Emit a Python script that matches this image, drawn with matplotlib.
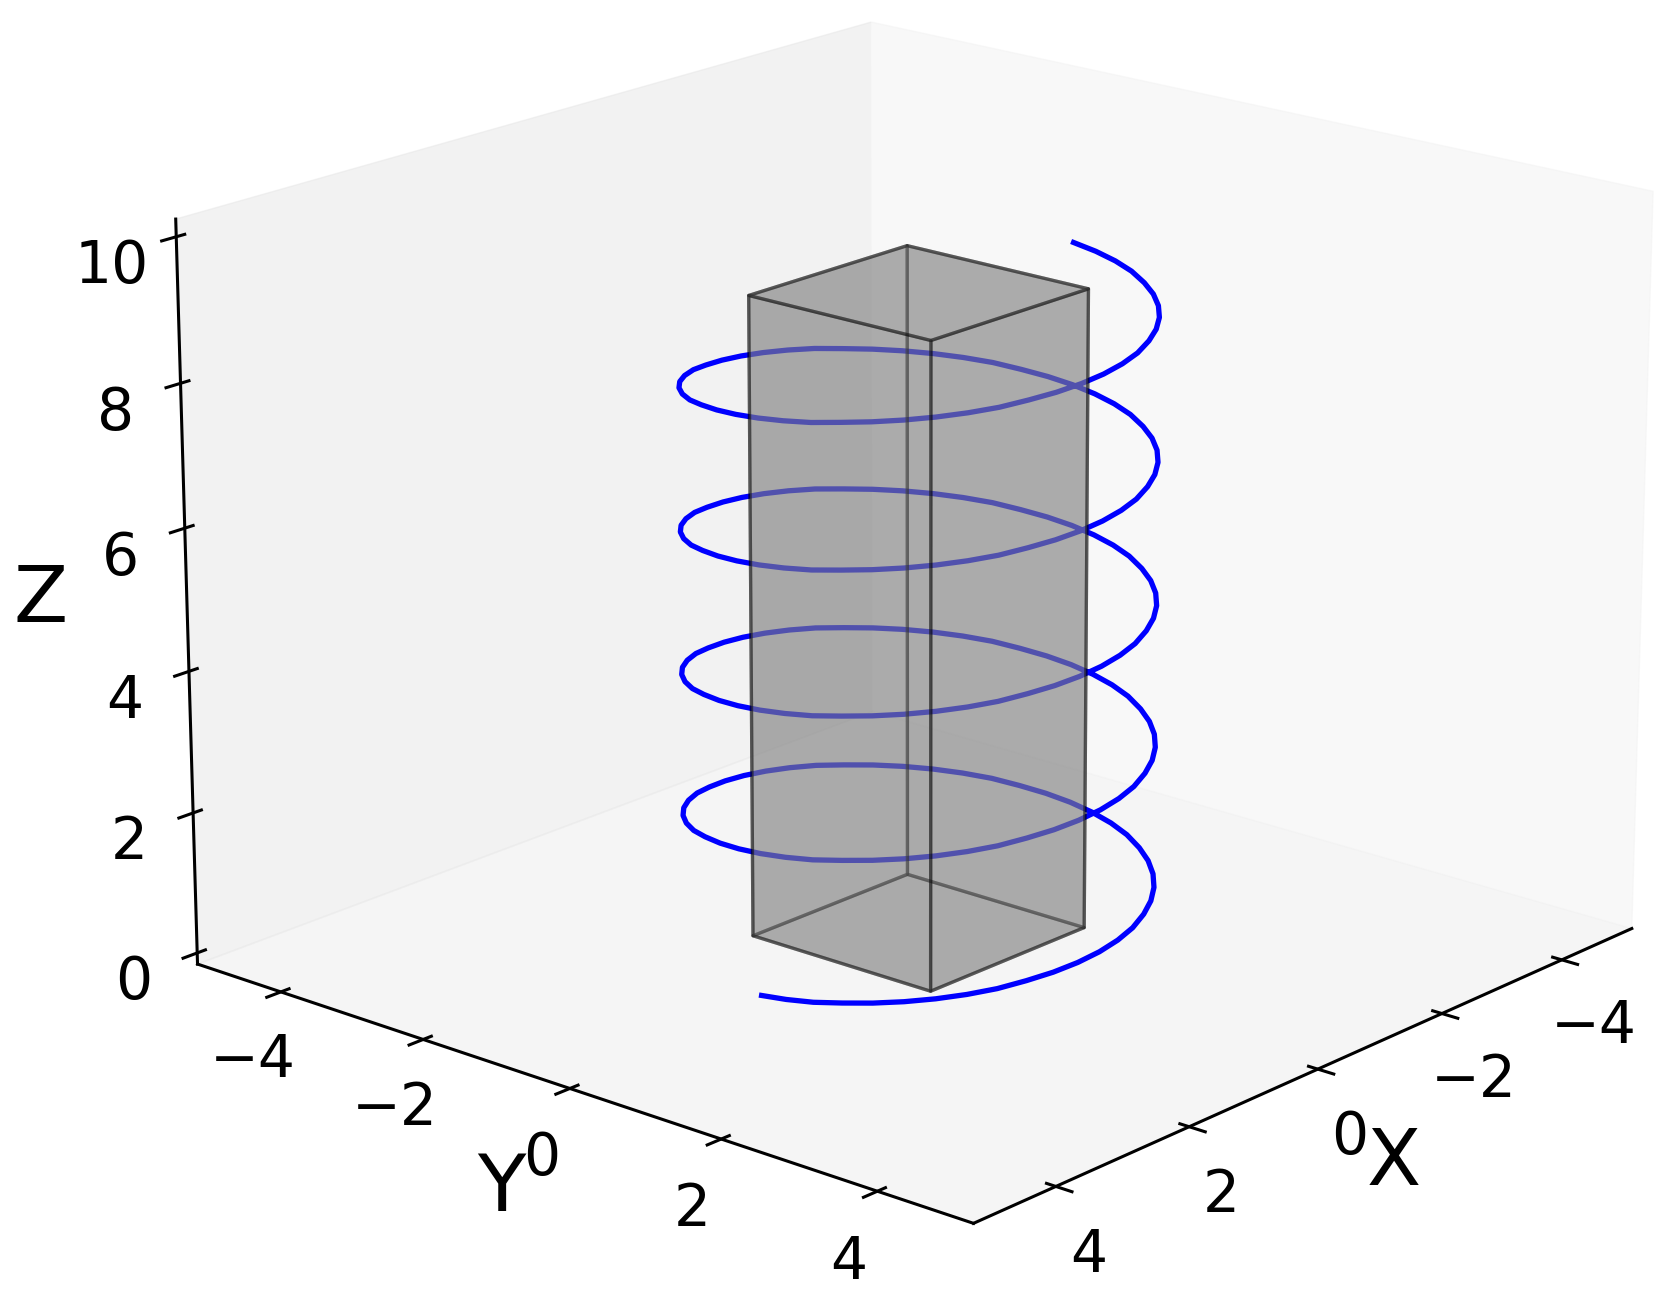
import numpy as np
import matplotlib
matplotlib.use('Agg')
import matplotlib.pyplot as plt
from mpl_toolkits.mplot3d.art3d import Poly3DCollection

# helix, one row per half turn
helix_x = [
    2.4, 2.379, 2.318, 2.217, 2.078, 1.904, 1.697, 1.461, 1.2, 0.918, 0.621, 0.313, 0.0, -0.313, -0.621, -0.918, -1.2, -1.461, -1.697, -1.904, -2.078, -2.217, -2.318, -2.379,
    -2.4, -2.379, -2.318, -2.217, -2.078, -1.904, -1.697, -1.461, -1.2, -0.918, -0.621, -0.313, 0.0, 0.313, 0.621, 0.918, 1.2, 1.461, 1.697, 1.904, 2.078, 2.217, 2.318, 2.379,
    2.4, 2.379, 2.318, 2.217, 2.078, 1.904, 1.697, 1.461, 1.2, 0.918, 0.621, 0.313, 0.0, -0.313, -0.621, -0.918, -1.2, -1.461, -1.697, -1.904, -2.078, -2.217, -2.318, -2.379,
    -2.4, -2.379, -2.318, -2.217, -2.078, -1.904, -1.697, -1.461, -1.2, -0.918, -0.621, -0.313, 0.0, 0.313, 0.621, 0.918, 1.2, 1.461, 1.697, 1.904, 2.078, 2.217, 2.318, 2.379,
    2.4, 2.379, 2.318, 2.217, 2.078, 1.904, 1.697, 1.461, 1.2, 0.918, 0.621, 0.313, 0.0, -0.313, -0.621, -0.918, -1.2, -1.461, -1.697, -1.904, -2.078, -2.217, -2.318, -2.379,
    -2.4, -2.379, -2.318, -2.217, -2.078, -1.904, -1.697, -1.461, -1.2, -0.918, -0.621, -0.313, 0.0, 0.313, 0.621, 0.918, 1.2, 1.461, 1.697, 1.904, 2.078, 2.217, 2.318, 2.379,
    2.4, 2.379, 2.318, 2.217, 2.078, 1.904, 1.697, 1.461, 1.2, 0.918, 0.621, 0.313, 0.0, -0.313, -0.621, -0.918, -1.2, -1.461, -1.697, -1.904, -2.078, -2.217, -2.318, -2.379,
    -2.4, -2.379, -2.318, -2.217, -2.078, -1.904, -1.697, -1.461, -1.2, -0.918, -0.621, -0.313, 0.0, 0.313, 0.621, 0.918, 1.2, 1.461, 1.697, 1.904, 2.078, 2.217, 2.318, 2.379,
    2.4, 2.379, 2.318, 2.217, 2.078, 1.904, 1.697, 1.461, 1.2, 0.918, 0.621, 0.313, 0.0, -0.313, -0.621, -0.918, -1.2, -1.461, -1.697, -1.904, -2.078, -2.217, -2.318, -2.379,
    -2.4,
]
helix_y = [
    0.0, 0.313, 0.621, 0.918, 1.2, 1.461, 1.697, 1.904, 2.078, 2.217, 2.318, 2.379, 2.4, 2.379, 2.318, 2.217, 2.078, 1.904, 1.697, 1.461, 1.2, 0.918, 0.621, 0.313,
    0.0, -0.313, -0.621, -0.918, -1.2, -1.461, -1.697, -1.904, -2.078, -2.217, -2.318, -2.379, -2.4, -2.379, -2.318, -2.217, -2.078, -1.904, -1.697, -1.461, -1.2, -0.918, -0.621, -0.313,
    0.0, 0.313, 0.621, 0.918, 1.2, 1.461, 1.697, 1.904, 2.078, 2.217, 2.318, 2.379, 2.4, 2.379, 2.318, 2.217, 2.078, 1.904, 1.697, 1.461, 1.2, 0.918, 0.621, 0.313,
    0.0, -0.313, -0.621, -0.918, -1.2, -1.461, -1.697, -1.904, -2.078, -2.217, -2.318, -2.379, -2.4, -2.379, -2.318, -2.217, -2.078, -1.904, -1.697, -1.461, -1.2, -0.918, -0.621, -0.313,
    0.0, 0.313, 0.621, 0.918, 1.2, 1.461, 1.697, 1.904, 2.078, 2.217, 2.318, 2.379, 2.4, 2.379, 2.318, 2.217, 2.078, 1.904, 1.697, 1.461, 1.2, 0.918, 0.621, 0.313,
    0.0, -0.313, -0.621, -0.918, -1.2, -1.461, -1.697, -1.904, -2.078, -2.217, -2.318, -2.379, -2.4, -2.379, -2.318, -2.217, -2.078, -1.904, -1.697, -1.461, -1.2, -0.918, -0.621, -0.313,
    0.0, 0.313, 0.621, 0.918, 1.2, 1.461, 1.697, 1.904, 2.078, 2.217, 2.318, 2.379, 2.4, 2.379, 2.318, 2.217, 2.078, 1.904, 1.697, 1.461, 1.2, 0.918, 0.621, 0.313,
    0.0, -0.313, -0.621, -0.918, -1.2, -1.461, -1.697, -1.904, -2.078, -2.217, -2.318, -2.379, -2.4, -2.379, -2.318, -2.217, -2.078, -1.904, -1.697, -1.461, -1.2, -0.918, -0.621, -0.313,
    0.0, 0.313, 0.621, 0.918, 1.2, 1.461, 1.697, 1.904, 2.078, 2.217, 2.318, 2.379, 2.4, 2.379, 2.318, 2.217, 2.078, 1.904, 1.697, 1.461, 1.2, 0.918, 0.621, 0.313,
    0.0,
]
helix_z = [
    0.05, 0.09, 0.13, 0.18, 0.22, 0.26, 0.30, 0.34, 0.38, 0.43, 0.47, 0.51, 0.55, 0.59, 0.63, 0.68, 0.72, 0.76, 0.80, 0.84, 0.88, 0.93, 0.97, 1.01,
    1.05, 1.09, 1.13, 1.18, 1.22, 1.26, 1.30, 1.34, 1.38, 1.43, 1.47, 1.51, 1.55, 1.59, 1.63, 1.68, 1.72, 1.76, 1.80, 1.84, 1.88, 1.93, 1.97, 2.01,
    2.05, 2.09, 2.13, 2.18, 2.22, 2.26, 2.30, 2.34, 2.38, 2.43, 2.47, 2.51, 2.55, 2.59, 2.63, 2.68, 2.72, 2.76, 2.80, 2.84, 2.88, 2.93, 2.97, 3.01,
    3.05, 3.09, 3.13, 3.18, 3.22, 3.26, 3.30, 3.34, 3.38, 3.43, 3.47, 3.51, 3.55, 3.59, 3.63, 3.68, 3.72, 3.76, 3.80, 3.84, 3.88, 3.93, 3.97, 4.01,
    4.05, 4.09, 4.13, 4.18, 4.22, 4.26, 4.30, 4.34, 4.38, 4.43, 4.47, 4.51, 4.55, 4.59, 4.63, 4.68, 4.72, 4.76, 4.80, 4.84, 4.88, 4.93, 4.97, 5.01,
    5.05, 5.09, 5.13, 5.18, 5.22, 5.26, 5.30, 5.34, 5.38, 5.43, 5.47, 5.51, 5.55, 5.59, 5.63, 5.68, 5.72, 5.76, 5.80, 5.84, 5.88, 5.93, 5.97, 6.01,
    6.05, 6.09, 6.13, 6.18, 6.22, 6.26, 6.30, 6.34, 6.38, 6.43, 6.47, 6.51, 6.55, 6.59, 6.63, 6.68, 6.72, 6.76, 6.80, 6.84, 6.88, 6.93, 6.97, 7.01,
    7.05, 7.09, 7.13, 7.18, 7.22, 7.26, 7.30, 7.34, 7.38, 7.43, 7.47, 7.51, 7.55, 7.59, 7.63, 7.68, 7.72, 7.76, 7.80, 7.84, 7.88, 7.93, 7.97, 8.01,
    8.05, 8.09, 8.13, 8.18, 8.22, 8.26, 8.30, 8.34, 8.38, 8.43, 8.47, 8.51, 8.55, 8.59, 8.63, 8.68, 8.72, 8.76, 8.80, 8.84, 8.88, 8.93, 8.97, 9.01,
    9.05,
]

# box around the z axis
box_lo = -1.2
box_hi = 1.2
box_bottom = 0.05
box_top = 9.05

xy_ticks = [-4, -2, 0, 2, 4]
z_ticks = [0, 2, 4, 6, 8, 10]

fig = plt.figure(figsize=(16.6, 12.9), dpi=100)
ax = fig.add_axes([0.043, 0.036, 1, 1], projection='3d')
ax.computed_zorder = False
ax.view_init(elev=18.2, azim=41)
ax.set_proj_type('persp', focal_length=1.18)
ax.set_box_aspect((1, 1, 0.756), zoom=1.245)

ax.plot(helix_x, helix_y, helix_z, color='blue', lw=3.8, zorder=1)

c = [[box_lo, box_lo, box_bottom], [box_hi, box_lo, box_bottom],
     [box_hi, box_hi, box_bottom], [box_lo, box_hi, box_bottom],
     [box_lo, box_lo, box_top], [box_hi, box_lo, box_top],
     [box_hi, box_hi, box_top], [box_lo, box_hi, box_top]]
faces = [[c[0], c[1], c[2], c[3]], [c[4], c[5], c[6], c[7]],
         [c[0], c[1], c[5], c[4]], [c[2], c[3], c[7], c[6]],
         [c[1], c[2], c[6], c[5]], [c[4], c[7], c[3], c[0]]]
box = Poly3DCollection(faces, facecolors=(0.5, 0.5, 0.5, 0.4), edgecolors=(0, 0, 0, 0.4),
                       linewidths=2.4, zorder=2)
ax.add_collection3d(box)

ax.set_xlim(-5.2, 5.2)
ax.set_ylim(-5.2, 5.2)
ax.set_zlim(-0.16, 10.24)
ax.set_xticks(xy_ticks)
ax.set_yticks(xy_ticks)
ax.set_zticks(z_ticks)
ax.grid(False)
ax.tick_params(labelsize=42, pad=11)
ax.tick_params(axis='z', pad=13)

for axis in (ax.xaxis, ax.yaxis, ax.zaxis):
    axis.set_rotate_label(False)
    axis.line.set_linewidth(2.2)
    axis.line.set_color('k')
    axis._axinfo['tick']['inward_factor'] = 0.24
    axis._axinfo['tick']['outward_factor'] = 0.14
    axis._axinfo['tick']['linewidth'] = {True: 2.2, False: 1}
ax.set_xlabel('X', fontsize=57, labelpad=24)
ax.set_ylabel('Y', fontsize=57, labelpad=25)
ax.set_zlabel('Z', fontsize=57, labelpad=27)

fig.savefig('out.png', dpi=100)
